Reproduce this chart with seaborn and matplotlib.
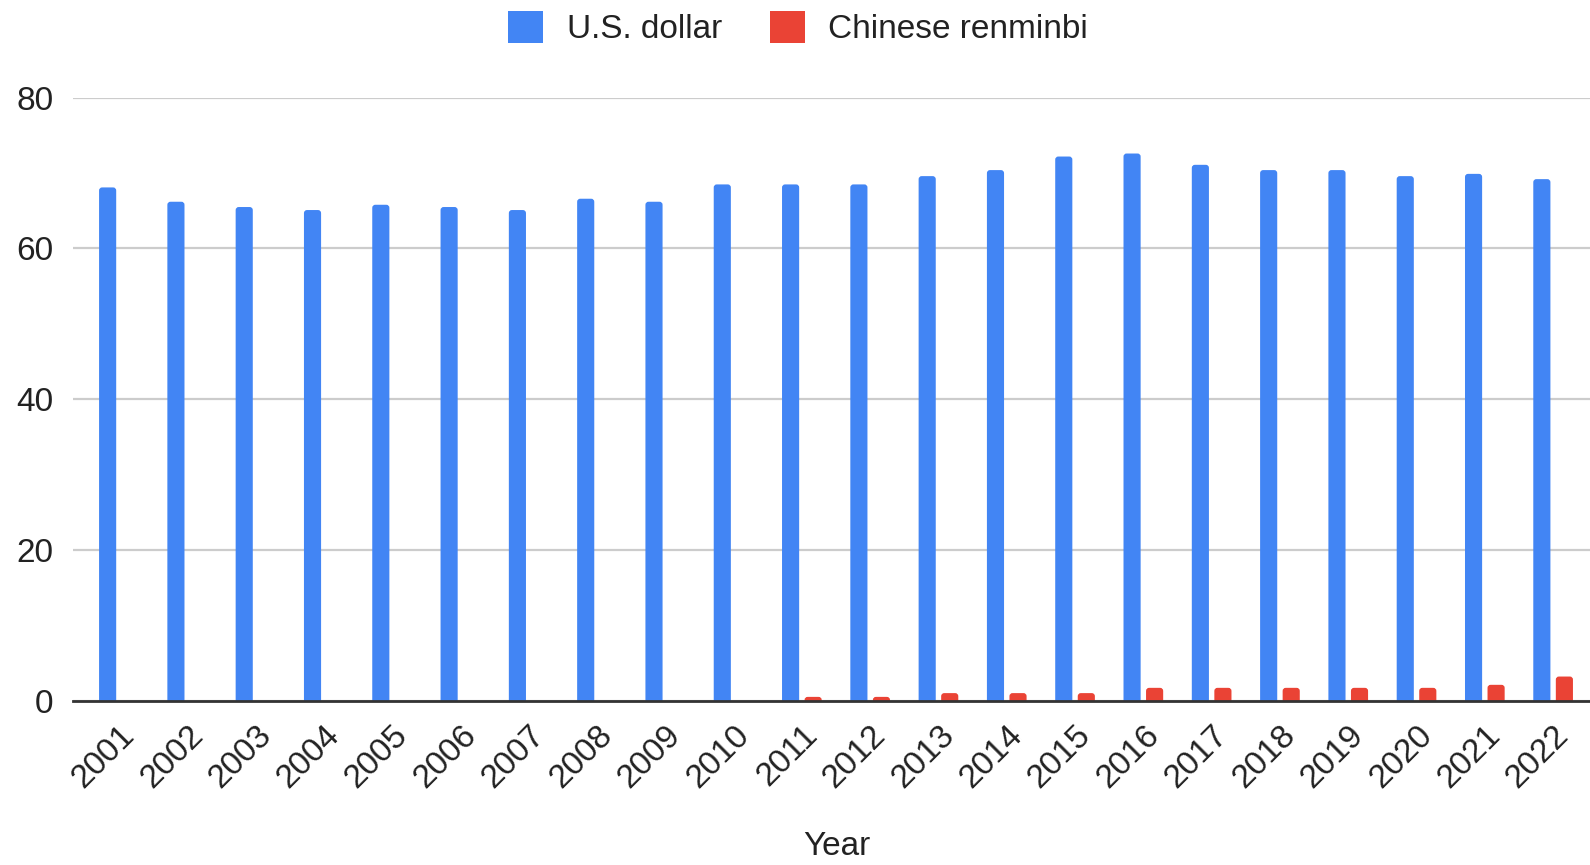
import matplotlib
matplotlib.use("Agg")
import matplotlib.pyplot as plt
import matplotlib.transforms as mtransforms
from matplotlib.patches import FancyBboxPatch, Patch, Rectangle
import numpy as np
import pandas as pd
import seaborn as sns

# Share of currency in allocated reserves (%)
years = [str(y) for y in range(2001, 2023)]
usd = [68.1, 66.2, 65.5, 65.1, 65.8, 65.5, 65.1, 66.6, 66.2, 68.5, 68.5,
       68.5, 69.6, 70.4, 72.2, 72.6, 71.1, 70.4, 70.4, 69.6, 69.9, 69.2]
rmb = [0, 0, 0, 0, 0, 0, 0, 0, 0, 0, 0.5,
       0.5, 1.0, 1.0, 1.0, 1.7, 1.7, 1.7, 1.7, 1.7, 2.1, 3.2]
series_names = ["U.S. dollar", "Chinese renminbi"]
colors = ["#4285F4", "#EA4335"]

df = pd.DataFrame({
    "Year": years * 2,
    "Value": usd + rmb,
    "Currency": [series_names[0]] * len(years) + [series_names[1]] * len(years),
})

sns.set_theme(style="white")
plt.rcParams["font.family"] = ["Liberation Sans", "DejaVu Sans"]
TEXT = "#222222"
FS = 24

fig = plt.figure(figsize=(15.9, 8.65), dpi=100)
ax = fig.add_axes([0.046, 0.19, 0.954, 0.697])

sns.barplot(data=df, x="Year", y="Value", hue="Currency",
            palette=colors, width=0.66, gap=0.24, ax=ax,
            saturation=1, legend=False)

ax.set_ylim(0, 80)
ax.set_xlim(-0.67, 21.54)

# Give the bars slightly rounded top corners
rx = 0.045                      # corner radius in category units
ry = rx * 68.3 / 7.54           # same radius in value units
for p in list(ax.patches):
    if not isinstance(p, Rectangle):
        continue
    x, w, h = p.get_x(), p.get_width(), p.get_height()
    fc = p.get_facecolor()
    p.remove()
    if h <= 0:
        continue
    ax.add_patch(FancyBboxPatch((x, -ry), w, h + ry,
                                boxstyle=f"round,pad=0,rounding_size={rx}",
                                mutation_aspect=ry / rx,
                                facecolor=fc, edgecolor="none", zorder=2))

ax.set_yticks([0, 20, 40, 60, 80])
ax.yaxis.grid(True, color="#cccccc", linewidth=1.6)
ax.set_axisbelow(True)
for s in ["top", "right", "left"]:
    ax.spines[s].set_visible(False)
ax.spines["bottom"].set_color("#333333")
ax.spines["bottom"].set_linewidth(2)
ax.spines["bottom"].set_zorder(3)
ax.tick_params(axis="y", length=0, pad=14, labelsize=FS, labelcolor=TEXT)
ax.tick_params(axis="x", length=0, pad=4, labelsize=FS, labelcolor=TEXT)
ax.set_ylabel("")
ax.set_xlabel("")

offset = mtransforms.ScaledTranslation(11 / 100, -24 / 100, fig.dpi_scale_trans)
for lbl in ax.get_xticklabels():
    lbl.set_rotation(45)
    lbl.set_ha("right")
    lbl.set_va("center")
    lbl.set_rotation_mode("anchor")
    lbl.set_transform(lbl.get_transform() + offset)

fig.text(0.526, 0.012, "Year", ha="center", va="baseline",
         fontsize=FS, color=TEXT)

handles = [Patch(facecolor=c, edgecolor="none") for c in colors]
fig.legend(handles, series_names, loc="center", bbox_to_anchor=(0.502, 0.968),
           ncol=2, frameon=False, fontsize=FS, handlelength=1.05,
           handleheight=1.1, handletextpad=0.7, columnspacing=1.45,
           labelcolor=TEXT)

fig.savefig("out.png", dpi=100, facecolor="white")
